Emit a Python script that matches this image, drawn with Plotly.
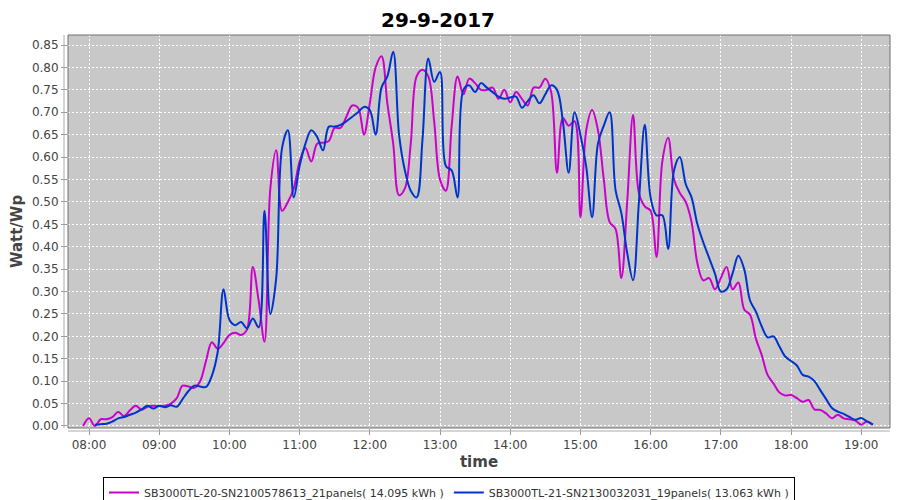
import pandas as pd
import plotly.graph_objects as go

# ---- data (5-minute samples, Watt/Wp) ----
day = "2017-09-29"
start_a = "07:55"
start_b = "08:05"
name_a = "SB3000TL-20-SN2100578613_21panels( 14.095 kWh )"
name_b = "SB3000TL-21-SN2130032031_19panels( 13.063 kWh )"

values_a = [
    0.000,
    0.017, 0.000, 0.015, 0.015, 0.020, 0.031, 0.022, 0.035, 0.045, 0.036, 0.043, 0.045,
    0.044, 0.045, 0.050, 0.062, 0.090, 0.088, 0.085, 0.100, 0.145, 0.187, 0.172, 0.185,
    0.203, 0.208, 0.203, 0.215, 0.355, 0.280, 0.188, 0.530, 0.615, 0.480, 0.500, 0.530,
    0.590, 0.620, 0.590, 0.630, 0.632, 0.636, 0.665, 0.665, 0.690, 0.715, 0.710, 0.650,
    0.720, 0.800, 0.825, 0.720, 0.630, 0.515, 0.530, 0.630, 0.780, 0.795, 0.780, 0.680,
    0.550, 0.525, 0.670, 0.780, 0.740, 0.775, 0.765, 0.750, 0.750, 0.755, 0.730, 0.750,
    0.722, 0.745, 0.730, 0.715, 0.755, 0.755, 0.775, 0.745, 0.565, 0.687, 0.670, 0.680,
    0.466, 0.660, 0.705, 0.660, 0.550, 0.455, 0.440, 0.330, 0.500, 0.694, 0.520, 0.490,
    0.480, 0.377, 0.590, 0.643, 0.550, 0.520, 0.500, 0.455, 0.363, 0.325, 0.330, 0.305,
    0.330, 0.355, 0.305, 0.320, 0.260, 0.248, 0.195, 0.158, 0.114, 0.095, 0.075, 0.068,
    0.069, 0.062, 0.054, 0.058, 0.037, 0.036, 0.028, 0.017, 0.025, 0.017, 0.015, 0.012,
    0.003, 0.010, 0.003,
]

values_b = [
    0.003, 0.004, 0.005, 0.010, 0.017, 0.020, 0.025, 0.030, 0.037, 0.045, 0.039,
    0.045, 0.042, 0.046, 0.043, 0.060, 0.078, 0.090, 0.088, 0.087, 0.112, 0.165, 0.305,
    0.237, 0.225, 0.232, 0.218, 0.240, 0.220, 0.480, 0.250, 0.330, 0.620, 0.660, 0.510,
    0.580, 0.630, 0.660, 0.645, 0.615, 0.668, 0.668, 0.672, 0.680, 0.690, 0.700, 0.712,
    0.705, 0.650, 0.755, 0.780, 0.835, 0.650, 0.570, 0.525, 0.510, 0.638, 0.820, 0.768,
    0.790, 0.580, 0.570, 0.510, 0.750, 0.760, 0.745, 0.765, 0.755, 0.745, 0.735, 0.730,
    0.733, 0.735, 0.710, 0.725, 0.738, 0.720, 0.740, 0.760, 0.750, 0.680, 0.565, 0.700,
    0.650, 0.578, 0.466, 0.630, 0.670, 0.700, 0.527, 0.475, 0.386, 0.325, 0.500, 0.672,
    0.510, 0.470, 0.470, 0.395, 0.570, 0.600, 0.540, 0.510, 0.450, 0.410, 0.375, 0.340,
    0.300, 0.305, 0.340, 0.380, 0.350, 0.280, 0.255, 0.222, 0.198, 0.200, 0.178, 0.155,
    0.145, 0.135, 0.114, 0.110, 0.100, 0.080, 0.060, 0.040, 0.032, 0.027, 0.020, 0.014,
    0.018, 0.010, 0.003,
]

tick_times = ["08:00", "09:00", "10:00", "11:00", "12:00", "13:00",
              "14:00", "15:00", "16:00", "17:00", "18:00", "19:00"]

times_a = pd.date_range(f"{day} {start_a}", periods=len(values_a), freq="5min")
times_b = pd.date_range(f"{day} {start_b}", periods=len(values_b), freq="5min")

color_a = "#cc00cc"
color_b = "#0033cc"
font = "DejaVu Sans"

# the page body has an 8px margin, so the figure is 892x492 and drawn from (8,8)
W, H = 892, 492

fig = go.Figure()
fig.add_trace(go.Scatter(x=times_a, y=values_a, mode="lines", name=name_a,
                         line=dict(color=color_a, width=2, shape="spline", smoothing=1.0)))
fig.add_trace(go.Scatter(x=times_b, y=values_b, mode="lines", name=name_b,
                         line=dict(color=color_b, width=2, shape="spline", smoothing=1.0)))

# plot area in page pixels: x 68..890, y 35..428  -> figure pixels x 60..882, y 27..420
fig.update_layout(
    width=W, height=H,
    margin=dict(l=60, r=10, t=27, b=72, autoexpand=False),
    paper_bgcolor="white",
    plot_bgcolor="#c8c8c8",
    font=dict(family=font, size=12, color="#444444"),
    title=dict(text="<b>29-9-2017</b>", x=(438 - 8) / W, xanchor="center", xref="container",
               y=1 - 12 / H, yanchor="middle", yref="container",
               font=dict(family=font, size=20, color="black")),
    showlegend=True,
    legend=dict(orientation="h", xref="container", yref="container",
                x=(449 - 8) / W, xanchor="center", y=1 - 469 / H, yanchor="top",
                bordercolor="black", borderwidth=1, bgcolor="white",
                font=dict(family=font, size=11, color="#333333"),
                itemwidth=30, tracegroupgap=0),
    xaxis=dict(
        type="date",
        automargin=False,
        range=[f"{day} 07:42:03", f"{day} 19:24:37"],
        tickvals=[f"{day} {t}" for t in tick_times],
        ticktext=tick_times,
        showgrid=True, gridcolor="white", griddash="2px,2px", gridwidth=1,
        zeroline=False, showline=False,
        ticks="outside", ticklen=6, tickcolor="#999999",
        tickfont=dict(family=font, size=12, color="#444444"),
        title=dict(text="<b>time</b>", font=dict(family=font, size=15, color="#444444"),
                   standoff=5),
    ),
    yaxis=dict(
        automargin=False,
        range=[-0.0045, 0.8724],
        tickvals=[i * 0.05 for i in range(18)],
        tickformat=".2f",
        showgrid=True, gridcolor="white", griddash="2px,2px", gridwidth=1,
        zeroline=False, showline=False,
        ticks="outside", ticklen=6, tickcolor="#999999",
        tickfont=dict(family=font, size=12, color="#444444"),
        title=dict(text="<b>Watt/Wp</b>", font=dict(family=font, size=15, color="#444444"),
                   standoff=6),
    ),
)

# plot outline and offset axis lines
fig.add_shape(type="rect", xref="paper", yref="paper", x0=0, y0=0, x1=1, y1=1,
              line=dict(color="#707070", width=1), fillcolor="rgba(0,0,0,0)", layer="above")
fig.add_shape(type="line", xref="paper", yref="paper", x0=-4 / 822, x1=-4 / 822, y0=0, y1=1,
              line=dict(color="#aaaaaa", width=1))
fig.add_shape(type="line", xref="paper", yref="paper", x0=0, x1=1, y0=-3 / 393, y1=-3 / 393,
              line=dict(color="#aaaaaa", width=1))

fig.write_html("out.html")
